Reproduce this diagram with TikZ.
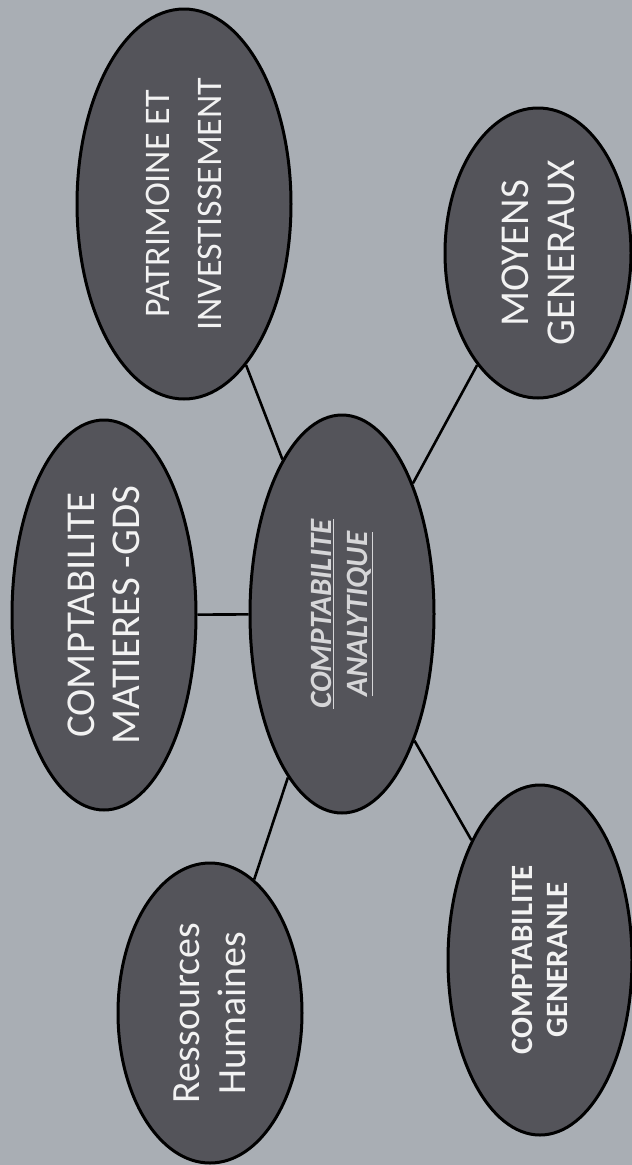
\documentclass[tikz,border=0pt]{standalone}
\usepackage{fontspec}
\setmainfont{Carlito}
\usetikzlibrary{shapes.geometric}
\definecolor{paper}{HTML}{A9AEB4}
\definecolor{bubble}{HTML}{54545A}
\definecolor{softwhite}{HTML}{F2F2F2}
\definecolor{palegrey}{HTML}{D6D6D8}
\tikzset{
  bubblenode/.style={ellipse, rotate=90, draw=black, line width=3pt, fill=bubble,
    text=softwhite, inner sep=0pt, align=center},
  link/.style={draw=black, line width=2.6pt}
}
\begin{document}
\begin{tikzpicture}[x=1pt, y=-1pt]
  \fill[paper] (0,0) rectangle (632,1165);
  \useasboundingbox (0,0) rectangle (632,1165);

  % central bubble and the five surrounding ones
  \node[bubblenode, minimum width=398pt, minimum height=184pt, text=palegrey,
        font=\fontsize{31}{36}\selectfont\bfseries\itshape] (ca) at (342,614)
        {\underline{COMPTABILITE}\\\underline{ANALYTIQUE}};
  \node[bubblenode, minimum width=390pt, minimum height=184pt,
        font=\fontsize{41}{45}\selectfont] (cm) at (104,615)
        {COMPTABILITE\\MATIERES -GDS};
  \node[bubblenode, minimum width=390pt, minimum height=214pt,
        font=\fontsize{36}{52}\selectfont] (pat) at (184,204)
        {PATRIMOINE ET\\INVESTISSEMENT};
  \node[bubblenode, minimum width=290pt, minimum height=186pt,
        font=\fontsize{41}{46}\selectfont] (moy) at (538,253)
        {MOYENS\\GENERAUX};
  \node[bubblenode, minimum width=300pt, minimum height=184pt,
        font=\fontsize{40}{46}\selectfont] (rh) at (210,1013)
        {Ressources\\Humaines};
  \node[bubblenode, minimum width=350pt, minimum height=184pt,
        font=\fontsize{31}{35}\selectfont\bfseries] (cg) at (540,960)
        {COMPTABILITE\\GENERANLE};

  % spokes from the centre
  \draw[link] (ca) -- (cm);
  \draw[link] (ca) -- (pat);
  \draw[link] (ca) -- (moy);
  \draw[link] (ca) -- (rh);
  \draw[link] (ca) -- (cg);
\end{tikzpicture}
\end{document}
